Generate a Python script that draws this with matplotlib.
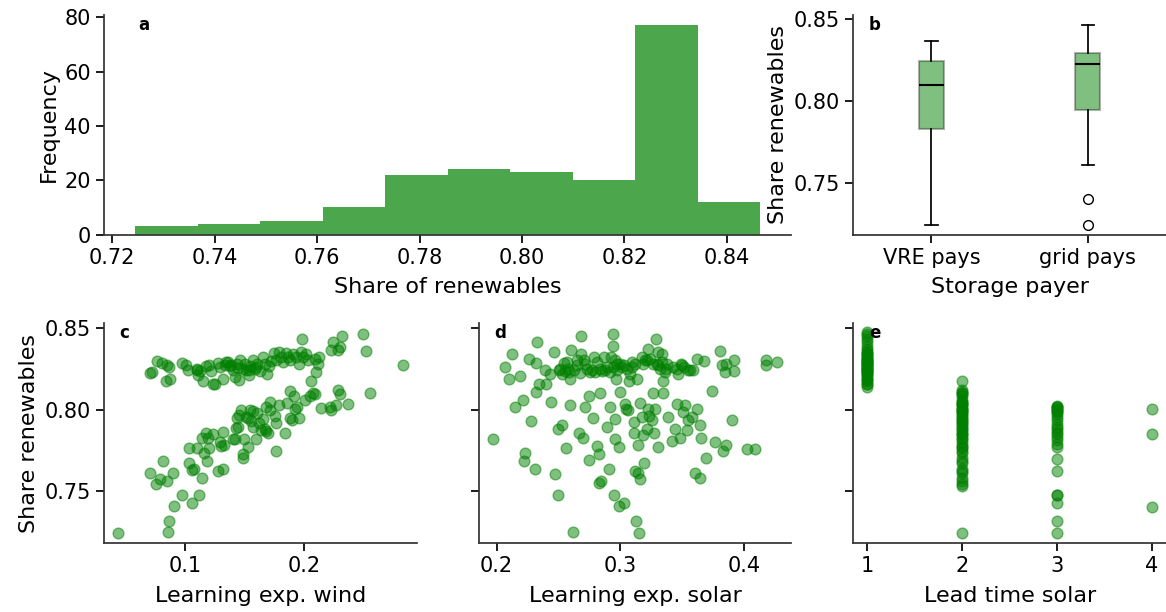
import numpy as np
import matplotlib
matplotlib.use("Agg")
import matplotlib.pyplot as plt
from matplotlib.gridspec import GridSpec

# --- data ---
# a: histogram of share of renewables (10 bins)
share_min = 0.7245
share_max = 0.8465
hist_counts = [3, 4, 5, 10, 22, 24, 23, 20, 77, 12]

# b: box plot stats per storage payer
payers = ["VRE pays", "grid pays"]
box_med = [0.8101, 0.8225]
box_q1 = [0.7832, 0.7944]
box_q3 = [0.8245, 0.8294]
box_lo = [0.7245, 0.7610]
box_hi = [0.8367, 0.8465]
box_fliers = [[], [0.7404, 0.7245]]

# c: learning exponent wind vs share
wind_x = [0.044, 0.086, 0.0866, 0.0908, 0.098, 0.1056, 0.1118, 0.0711, 0.0754, 0.079,
          0.0852, 0.0902, 0.0812, 0.1031, 0.1036, 0.1064, 0.1076, 0.1146, 0.1098, 0.114,
          0.116, 0.1182, 0.1176, 0.1196, 0.1204, 0.1238, 0.1275, 0.1322, 0.1294, 0.1317,
          0.1308, 0.1328, 0.1406, 0.1423, 0.1443, 0.1457, 0.1476, 0.1485, 0.149, 0.1499,
          0.1513, 0.1532, 0.1552, 0.156, 0.1574, 0.1597, 0.1608, 0.1625, 0.1644, 0.1658,
          0.1672, 0.1686, 0.17, 0.1714, 0.172, 0.1756, 0.1765, 0.177, 0.1793, 0.1846,
          0.186, 0.1882, 0.1888, 0.1905, 0.1916, 0.1924, 0.1944, 0.1958, 0.2008, 0.205,
          0.2078, 0.2092, 0.2148, 0.2218, 0.2232, 0.2275, 0.2289, 0.2303, 0.2373, 0.256,
          0.1426, 0.1440, 0.1530, 0.1570, 0.1680,
          0.0706, 0.072, 0.0768, 0.081, 0.0846, 0.0868, 0.0838, 0.0874, 0.098, 0.1008,
          0.1028, 0.1098, 0.1112, 0.1126, 0.1154, 0.1176, 0.1204, 0.1224, 0.1238, 0.1252,
          0.128, 0.1294, 0.1317, 0.1336, 0.1364, 0.1378, 0.1406, 0.142, 0.144, 0.1457,
          0.1462, 0.1485, 0.1504, 0.1518, 0.1541, 0.1552, 0.1574, 0.1588, 0.1608, 0.163,
          0.1658, 0.1672, 0.1692, 0.1709, 0.1728, 0.1748, 0.177, 0.1793, 0.1812, 0.1826,
          0.1849, 0.1868, 0.1888, 0.191, 0.1938, 0.196, 0.198, 0.1989, 0.1997, 0.2022,
          0.2036, 0.2064, 0.2092, 0.2106, 0.212, 0.2129, 0.2246, 0.2232, 0.2289, 0.2303,
          0.2325, 0.2499, 0.2527, 0.2835, 0.110, 0.1390, 0.1450, 0.1600, 0.1540, 0.1350]
wind_y = [0.7246, 0.725, 0.7317, 0.7408, 0.7479, 0.7428, 0.7479, 0.7611, 0.7546, 0.7576,
          0.7566, 0.7611, 0.7688, 0.7763, 0.7672, 0.7631, 0.7639, 0.7584, 0.7763, 0.7828,
          0.7732, 0.7686, 0.7858, 0.7824, 0.7767, 0.785, 0.7627, 0.7635, 0.7804, 0.7862,
          0.7775, 0.7783, 0.7818, 0.7818, 0.7891, 0.7966, 0.7996, 0.7727, 0.7702, 0.7822,
          0.7955, 0.7771, 0.7996, 0.7929, 0.7891, 0.7818, 0.7976, 0.7915, 0.7874, 0.7945,
          0.7884, 0.8016, 0.7858, 0.80, 0.8047, 0.7959, 0.7746, 0.7919, 0.8026, 0.7858,
          0.8041, 0.8114, 0.7951, 0.7935, 0.8081, 0.8006, 0.8016, 0.7951, 0.8061, 0.8081,
          0.8101, 0.8093, 0.8012, 0.8016, 0.80, 0.803, 0.8118, 0.8093, 0.8036, 0.8101,
          0.7890, 0.7950, 0.7950, 0.7990, 0.7870,
          0.8223, 0.8229, 0.8296, 0.8284, 0.827, 0.826, 0.8172, 0.8189, 0.8284, 0.827,
          0.8243, 0.8239, 0.8209, 0.8233, 0.8174, 0.8264, 0.827, 0.8233, 0.8158, 0.8154,
          0.8284, 0.826, 0.8189, 0.827, 0.829, 0.8264, 0.8243, 0.8199, 0.828, 0.8178,
          0.83, 0.8249, 0.8276, 0.8239, 0.8209, 0.8264, 0.8304, 0.8249, 0.828, 0.8235,
          0.832, 0.828, 0.8215, 0.8264, 0.8296, 0.8345, 0.8304, 0.8351, 0.8324, 0.829,
          0.8345, 0.832, 0.8304, 0.8337, 0.832, 0.828, 0.8351, 0.8432, 0.832, 0.8337,
          0.83, 0.8174, 0.831, 0.8229, 0.828, 0.832, 0.8412, 0.8365, 0.8365, 0.8385,
          0.8452, 0.8462, 0.8357, 0.827, 0.8245, 0.8270, 0.8255, 0.8262, 0.8240, 0.8290]

# d: learning exponent solar vs share
solar_x = [0.1973, 0.2067, 0.2099, 0.2126, 0.2153, 0.2188, 0.2212, 0.2226, 0.222, 0.2261,
           0.2279, 0.2309, 0.2315, 0.232, 0.2328, 0.2347, 0.2395, 0.24, 0.2435, 0.2444,
           0.2462, 0.2476, 0.2497, 0.2497, 0.253, 0.2516, 0.2543, 0.2556, 0.2562, 0.257,
           0.2583, 0.2597, 0.2597, 0.2605, 0.2616, 0.2651, 0.2664, 0.2677, 0.2685, 0.268,
           0.2696, 0.2704, 0.2712, 0.2731, 0.2745, 0.275, 0.2772, 0.2777, 0.2785, 0.2812,
           0.2825, 0.283, 0.2839, 0.2847, 0.2852, 0.2866, 0.2879, 0.2892, 0.2906, 0.2914,
           0.2927, 0.2938, 0.2946, 0.2954, 0.296, 0.296, 0.2968, 0.2973, 0.2987, 0.2992,
           0.30, 0.3008, 0.3035, 0.304, 0.3046, 0.3067, 0.3073, 0.3081, 0.3094, 0.3108,
           0.3113, 0.3121, 0.3129, 0.3135, 0.3143, 0.3148, 0.3153, 0.3161, 0.3164, 0.3175,
           0.3188, 0.3196, 0.3202, 0.3215, 0.3223, 0.3228, 0.3234, 0.3255, 0.3269, 0.3277,
           0.3282, 0.329, 0.3296, 0.3304, 0.3309, 0.3323, 0.3336, 0.3344, 0.335, 0.3363,
           0.339, 0.3417, 0.3444, 0.3457, 0.347, 0.3484, 0.3492, 0.3511, 0.3519, 0.3524,
           0.3538, 0.3551, 0.3565, 0.3578, 0.3591, 0.3605, 0.3618, 0.3624, 0.3645, 0.3645,
           0.3653, 0.368, 0.3691, 0.3739, 0.3766, 0.3806, 0.382, 0.3833, 0.3847, 0.386,
           0.386, 0.3906, 0.3922, 0.3922, 0.403, 0.4094, 0.4177, 0.4183, 0.4269,
           0.2503, 0.253, 0.2578, 0.2624, 0.2651, 0.2718, 0.2758, 0.2798, 0.2812, 0.2839,
           0.2892, 0.2919, 0.2946, 0.296, 0.2973, 0.30, 0.3027, 0.3054, 0.3094, 0.3121,
           0.3175, 0.3188, 0.3215, 0.3242, 0.3269, 0.3309, 0.3336, 0.3368, 0.3376, 0.343,
           0.3457, 0.3497, 0.3551]
solar_y = [0.782, 0.826, 0.8185, 0.834, 0.8016, 0.8205, 0.8061, 0.7732, 0.7688, 0.8306,
           0.7931, 0.7635, 0.8107, 0.8286, 0.8412, 0.8158, 0.8239, 0.8154, 0.8215, 0.8047,
           0.8351, 0.7607, 0.7475, 0.7884, 0.7905, 0.8249, 0.8284, 0.8233, 0.7763, 0.829,
           0.8229, 0.8189, 0.8026, 0.8365, 0.725, 0.83, 0.7858, 0.8223, 0.834, 0.8452,
           0.7828, 0.83, 0.8016, 0.8249, 0.7692, 0.8081, 0.8243, 0.7951, 0.832, 0.7777,
           0.755, 0.7728, 0.8101, 0.7566, 0.8233, 0.832, 0.8239, 0.7891, 0.7635, 0.8016,
           0.832, 0.8462, 0.8387, 0.7479, 0.7945, 0.7818, 0.8189, 0.828, 0.7408, 0.7769,
           0.8107, 0.826, 0.7428, 0.8036, 0.8006, 0.7996, 0.8174, 0.8215, 0.829, 0.7854,
           0.7925, 0.7627, 0.7317, 0.8189, 0.7783, 0.7611, 0.7246, 0.7574, 0.8041, 0.7955,
           0.7844, 0.7672, 0.83, 0.7884, 0.8006, 0.8371, 0.7959, 0.7935, 0.8103, 0.7858,
           0.8006, 0.8432, 0.828, 0.7769, 0.8351, 0.8249, 0.834, 0.8174, 0.8101, 0.8229,
           0.7955, 0.7809, 0.7884, 0.8036, 0.8219, 0.7824, 0.828, 0.7986, 0.826, 0.8026,
           0.7874, 0.7935, 0.8243, 0.7955, 0.8243, 0.7611, 0.831, 0.8006, 0.7905, 0.758,
           0.7824, 0.8296, 0.7702, 0.8114, 0.7803, 0.8357, 0.827, 0.7749, 0.8229, 0.7783,
           0.828, 0.7935, 0.8304, 0.8235, 0.7759, 0.7759, 0.83, 0.827, 0.829,
           0.8239, 0.8219, 0.8249, 0.8239, 0.827, 0.828, 0.8229, 0.8229, 0.829, 0.8249,
           0.826, 0.8229, 0.826, 0.83, 0.8239, 0.828, 0.827, 0.8249, 0.826, 0.828,
           0.832, 0.828, 0.83, 0.831, 0.828, 0.827, 0.829, 0.8249, 0.828, 0.826,
           0.8249, 0.827, 0.8239]

# e: lead time solar vs share
lead_1 = [0.8474, 0.8462, 0.845, 0.8432, 0.8412, 0.839, 0.8371, 0.8357, 0.8345, 0.834,
          0.8337, 0.8324, 0.832, 0.831, 0.8304, 0.83, 0.8296, 0.829, 0.8284, 0.828,
          0.8276, 0.827, 0.8264, 0.826, 0.8255, 0.8249, 0.8243, 0.8239, 0.8233, 0.8229,
          0.8223, 0.8215, 0.8209, 0.82, 0.8189, 0.8178, 0.8172, 0.8158, 0.8154, 0.814]
lead_2 = [0.8174, 0.8118, 0.811, 0.8101, 0.8093, 0.8081, 0.8061, 0.8047, 0.8041, 0.8036,
          0.8026, 0.8016, 0.8006, 0.80, 0.7996, 0.7986, 0.7976, 0.7966, 0.7955, 0.7945,
          0.7935, 0.7925, 0.7915, 0.7905, 0.7891, 0.7884, 0.7874, 0.7858, 0.785, 0.7844,
          0.7828, 0.7818, 0.7804, 0.7783, 0.7771, 0.7763, 0.7746, 0.7732, 0.7702, 0.7686,
          0.7672, 0.7639, 0.7627, 0.7611, 0.7584, 0.7566, 0.7546, 0.7532, 0.7248]
lead_3 = [0.8024, 0.8018, 0.8014, 0.8006, 0.80, 0.7994, 0.7985, 0.7972, 0.7953, 0.7935,
          0.7913, 0.7895, 0.7882, 0.7865, 0.7852, 0.783, 0.7811, 0.779, 0.7771, 0.770,
          0.7623, 0.7479, 0.7475, 0.7426, 0.7319, 0.7248]
lead_4 = [0.8003, 0.785, 0.7406]

plt.rcParams['font.family'] = ['DejaVu Sans']
plt.rcParams['font.size'] = 15
plt.rcParams['axes.linewidth'] = 1.25
plt.rcParams['axes.edgecolor'] = '0.2'
plt.rcParams['axes.labelpad'] = 7
plt.rcParams['xtick.major.width'] = 1.25
plt.rcParams['ytick.major.width'] = 1.25
plt.rcParams['xtick.major.size'] = 6
plt.rcParams['ytick.major.size'] = 6
plt.rcParams['xtick.labelsize'] = 15
plt.rcParams['ytick.labelsize'] = 15
plt.rcParams['axes.labelsize'] = 16

fig = plt.figure(figsize=(11.66, 6.12), dpi=100)
gs = GridSpec(2, 3, figure=fig, left=0.0892, right=1.0, top=0.9755, bottom=0.1127,
              wspace=0.198, hspace=0.405)
ax_a = fig.add_subplot(gs[0, :2])
ax_b = fig.add_subplot(gs[0, 2])
ax_c = fig.add_subplot(gs[1, 0])
ax_d = fig.add_subplot(gs[1, 1])
ax_e = fig.add_subplot(gs[1, 2])

ylim = (0.7184, 0.8526)
pt = dict(s=60, color='green', alpha=0.5)

# a
edges = np.linspace(share_min, share_max, len(hist_counts) + 1)
ax_a.hist(edges[:-1], bins=edges, weights=hist_counts, color='green', alpha=0.7)
ax_a.set_xlabel('Share of renewables')
ax_a.set_ylabel('Frequency', labelpad=4)
ax_a.set_yticks([0, 20, 40, 60, 80])

# b
stats = []
for i, name in enumerate(payers):
    stats.append(dict(label=name, med=box_med[i], q1=box_q1[i], q3=box_q3[i],
                      whislo=box_lo[i], whishi=box_hi[i], fliers=box_fliers[i]))
ax_b.bxp(stats, widths=0.16, patch_artist=True,
         boxprops=dict(facecolor=(0, 0.5, 0, 0.5), edgecolor=(0, 0, 0, 0.3), linewidth=1.5),
         medianprops=dict(color='black', linewidth=1.5),
         whiskerprops=dict(color='black', linewidth=1.25),
         capprops=dict(color='black', linewidth=1.25),
         flierprops=dict(marker='o', markerfacecolor='none', markeredgecolor='black',
                         markersize=7))
ax_b.set_ylim(*ylim)
ax_b.set_xlim(0.5, 2.5)
ax_b.set_yticks([0.75, 0.80, 0.85])
ax_b.set_ylabel('Share renewables', labelpad=4)
ax_b.set_xlabel('Storage payer')

# c
ax_c.scatter(wind_x, wind_y, **pt)
ax_c.set_xlim(0.032, 0.295)
ax_c.set_xticks([0.1, 0.2])
ax_c.set_xlabel('Learning exp. wind')
ax_c.set_ylabel('Share renewables', labelpad=4)

# d
ax_d.scatter(solar_x, solar_y, **pt)
ax_d.set_xlim(0.1855, 0.4385)
ax_d.set_xticks([0.2, 0.3, 0.4])
ax_d.set_xlabel('Learning exp. solar')

# e
for lt, vals in zip([1, 2, 3, 4], [lead_1, lead_2, lead_3, lead_4]):
    ax_e.scatter([lt] * len(vals), vals, **pt)
ax_e.set_xlim(0.85, 4.15)
ax_e.set_xticks([1, 2, 3, 4])
ax_e.set_xlabel('Lead time solar')

for ax in [ax_c, ax_d, ax_e]:
    ax.set_ylim(*ylim)
    ax.set_yticks([0.75, 0.80, 0.85])
for ax in [ax_d, ax_e]:
    ax.set_yticklabels([])

for ax, letter in zip([ax_a, ax_b, ax_c, ax_d, ax_e], 'abcde'):
    ax.spines['top'].set_visible(False)
    ax.spines['right'].set_visible(False)
    ax.text(0.05, 0.955, letter, transform=ax.transAxes, fontsize=12,
            fontweight='bold', ha='left', va='center')

fig.savefig('out.png', dpi=100)
